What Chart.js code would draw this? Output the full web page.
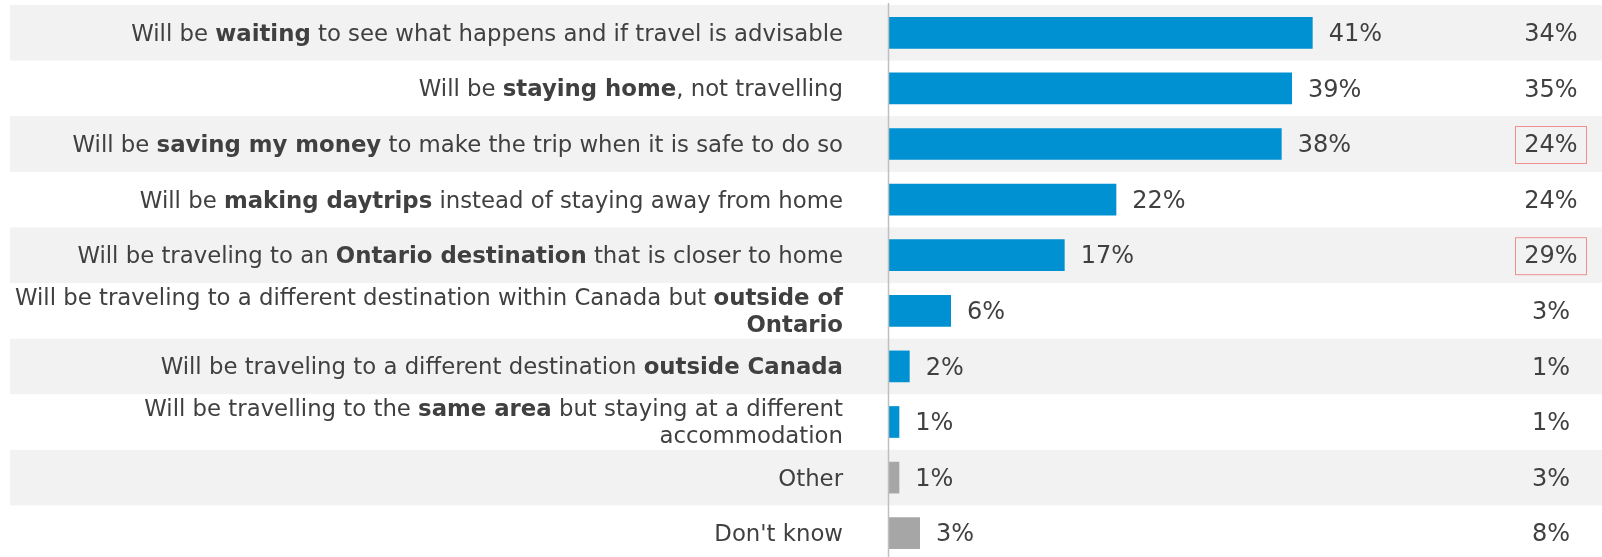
<!DOCTYPE html>
<html>
<head>
<meta charset="utf-8">
<script src="https://cdn.jsdelivr.net/npm/chart.js@4"></script>
<style>
  html, body { margin: 0; padding: 0; background: #ffffff; overflow: hidden; }
  #wrap { width: 1602px; height: 561px; }
</style>
</head>
<body>
<div id="wrap"><canvas id="chart" width="1602" height="561"></canvas></div>
<script>
// Answer options; **text** is drawn bold, \n starts a new line
const categories = [
  "Will be **waiting** to see what happens and if travel is advisable",
  "Will be **staying home**, not travelling",
  "Will be **saving my money** to make the trip when it is safe to do so",
  "Will be **making daytrips** instead of staying away from home",
  "Will be traveling to an **Ontario destination** that is closer to home",
  "Will be traveling to a different destination within Canada but **outside of**\n**Ontario**",
  "Will be traveling to a different destination **outside Canada**",
  "Will be travelling to the **same area** but staying at a different\naccommodation",
  "Other",
  "Don't know"
];

// Current wave (bars) and comparison wave (right-hand column), in %
const currentWave = [41, 39, 38, 22, 17, 6, 2, 1, 1, 3];
const previousWave = [34, 35, 24, 24, 29, 3, 1, 1, 3, 8];

// Comparison values outlined in red
const flaggedRows = [2, 4];
// Non-substantive answers shown in grey
const neutralRows = [8, 9];

const BLUE = '#0091D3';
const GREY = '#A6A6A6';
const BAND = '#F2F2F2';
const TEXT = '#404040';
const FONT = '"DejaVu Sans", Verdana, sans-serif';

function parseLine(line) {
  const parts = line.split('**');
  return parts.map((t, i) => ({ text: t, bold: i % 2 === 1 })).filter(p => p.text.length);
}

const decorPlugin = {
  id: 'decor',
  beforeDatasetsDraw(chart) {
    const { ctx, scales: { y } } = chart;
    const pitch = y.getPixelForValue(1) - y.getPixelForValue(0);
    ctx.save();
    ctx.fillStyle = BAND;
    categories.forEach((_, i) => {
      if (i % 2 === 0) {
        const cy = y.getPixelForValue(i);
        ctx.fillRect(10, cy - pitch / 2, chart.width - 10, pitch);
      }
    });
    ctx.restore();
  },
  afterDatasetsDraw(chart) {
    const { ctx, chartArea, scales: { y } } = chart;
    ctx.save();

    // vertical baseline of the bars
    ctx.strokeStyle = '#BFBFBF';
    ctx.lineWidth = 1.5;
    ctx.beginPath();
    ctx.moveTo(chartArea.left - 0.5, 3);
    ctx.lineTo(chartArea.left - 0.5, chart.height);
    ctx.stroke();

    // category labels with bold fragments
    const rightEdge = chartArea.left - 46;
    const lineH = 27;
    const labelSize = '22.8px ';
    ctx.textBaseline = 'middle';
    ctx.fillStyle = TEXT;
    categories.forEach((label, i) => {
      const lines = label.split('\n').map(parseLine);
      const cy = y.getPixelForValue(i) + 2;
      lines.forEach((segs, li) => {
        const ly = cy + (li - (lines.length - 1) / 2) * lineH;
        let total = 0;
        segs.forEach(s => {
          ctx.font = (s.bold ? 'bold ' : '') + labelSize + FONT;
          s.w = ctx.measureText(s.text).width;
          total += s.w;
        });
        let x = rightEdge - total;
        ctx.textAlign = 'left';
        segs.forEach(s => {
          ctx.font = (s.bold ? 'bold ' : '') + labelSize + FONT;
          ctx.fillText(s.text, x, ly);
          x += s.w;
        });
      });
    });

    // value labels at the end of each bar
    ctx.font = '24px ' + FONT;
    ctx.textAlign = 'left';
    const meta = chart.getDatasetMeta(0);
    meta.data.forEach((bar, i) => {
      ctx.fillText(currentWave[i] + '%', bar.x + 16, bar.y + 2);
    });

    // comparison column
    ctx.textAlign = 'center';
    const colX = 1551;
    previousWave.forEach((v, i) => {
      const cy = y.getPixelForValue(i) + 1;
      ctx.fillText(v + '%', colX, cy + 1);
      if (flaggedRows.includes(i)) {
        ctx.strokeStyle = '#EE9090';
        ctx.lineWidth = 1;
        ctx.strokeRect(1515.5, cy - 18.5, 71, 37);
      }
    });
    ctx.restore();
  }
};

new Chart(document.getElementById('chart'), {
  type: 'bar',
  data: {
    labels: categories,
    datasets: [{
      data: currentWave,
      backgroundColor: c => neutralRows.includes(c.dataIndex) ? GREY : BLUE,
      borderWidth: 0,
      barPercentage: 0.57,
      categoryPercentage: 1
    }]
  },
  options: {
    indexAxis: 'y',
    responsive: false,
    animation: false,
    devicePixelRatio: 1,
    layout: { padding: { left: 889, top: 5, right: 0, bottom: 0 } },
    scales: {
      x: { display: false, min: 0, max: 69 },
      y: { display: false }
    },
    plugins: {
      legend: { display: false },
      tooltip: { enabled: false }
    }
  },
  plugins: [decorPlugin]
});
</script>
</body>
</html>
